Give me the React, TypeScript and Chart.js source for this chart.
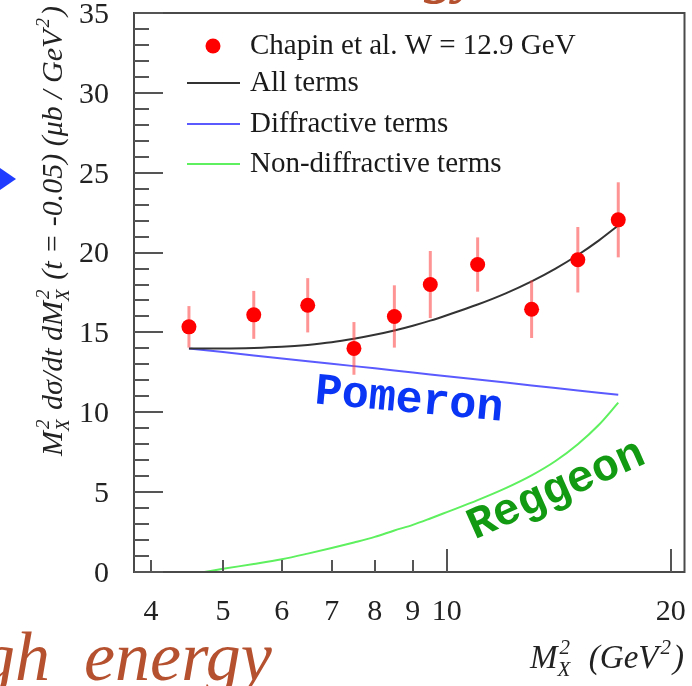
import React, { useEffect, useRef } from "react";
import { Chart, registerables } from "chart.js";
Chart.register(...registerables);

// Measured points (Chapin et al.)
const MX2_DATA = [4.5, 5.5, 6.5, 7.5, 8.5, 9.5, 11, 13, 15, 17];
const XS_DATA = [15.35, 16.1, 16.7, 14.0, 16.0, 18.0, 19.25, 16.45, 19.55, 22.05];
const XS_ERR = [1.3, 1.5, 1.7, 1.65, 1.95, 2.1, 1.7, 1.8, 2.05, 2.35];

// Model curves
const CURVE_X = [4.5, 5, 5.5, 6, 6.5, 7, 7.5, 8, 8.5, 9, 9.5, 10, 11, 12, 13, 14, 15, 16, 17];
const ALL_TERMS = [14.0, 14.0, 14.03, 14.1, 14.22, 14.38, 14.6, 14.85, 15.12, 15.42, 15.74, 16.08, 16.75, 17.45, 18.2, 19.0, 19.85, 20.75, 21.7];
const DIFFRACTIVE = [14.0, 13.77, 13.56, 13.37, 13.2, 13.04, 12.89, 12.75, 12.61, 12.49, 12.37, 12.26, 12.05, 11.86, 11.68, 11.52, 11.37, 11.23, 11.1];
const NONDIFF_X = [4.72, 5, 5.5, 6, 6.5, 7, 7.5, 8, 8.5, 9, 9.5, 10, 11, 12, 13, 14, 15, 16, 17];
const NONDIFF = [0, 0.2, 0.5, 0.8, 1.15, 1.5, 1.85, 2.2, 2.6, 2.95, 3.35, 3.75, 4.5, 5.25, 6.05, 6.95, 8.0, 9.2, 10.6];

// Axes
const X_MIN = 3.796;
const X_MAX = 20.87;
const X_TICKS = [4, 5, 6, 7, 8, 9, 10, 20];
const X_MAJOR = [10, 20];
const Y_MIN = 0;
const Y_MAX = 35;
const Y_STEP = 5;
const Y_MINOR_STEP = 1;

const LABELS = [
  "Chapin et al. W = 12.9 GeV",
  "All terms",
  "Diffractive terms",
  "Non-diffractive terms",
];

const SERIF = '"Liberation Serif", "Times New Roman", serif';

type Part = { t?: string; sup?: string; sub?: string };

function drawRich(ctx: CanvasRenderingContext2D, x: number, y: number, parts: Part[], size: number) {
  let cx = x;
  const small = Math.round(size * 0.64);
  for (const p of parts) {
    if (p.t !== undefined) {
      ctx.font = `italic ${size}px ${SERIF}`;
      ctx.fillText(p.t, cx, y);
      cx += ctx.measureText(p.t).width;
    } else {
      ctx.font = `italic ${small}px ${SERIF}`;
      let w = 0;
      if (p.sup) {
        ctx.fillText(p.sup, cx + 2, y - size * 0.42);
        w = Math.max(w, ctx.measureText(p.sup).width + 2);
      }
      if (p.sub) {
        ctx.fillText(p.sub, cx, y + size * 0.24);
        w = Math.max(w, ctx.measureText(p.sub).width);
      }
      cx += w + 2;
    }
  }
  return cx - x;
}

const errorBarPlugin = {
  id: "errorBars",
  beforeDatasetDraw(chart: any, args: any) {
    if (args.index !== 0) return;
    const { ctx, scales } = chart;
    ctx.save();
    ctx.strokeStyle = "rgba(255,60,60,0.55)";
    ctx.lineWidth = 3;
    MX2_DATA.forEach((xv, i) => {
      const px = scales.x.getPixelForValue(xv);
      const y1 = scales.y.getPixelForValue(XS_DATA[i] - XS_ERR[i]);
      const y2 = scales.y.getPixelForValue(XS_DATA[i] + XS_ERR[i]);
      ctx.beginPath();
      ctx.moveTo(px, y1);
      ctx.lineTo(px, y2);
      ctx.stroke();
    });
    ctx.restore();
  },
};

const framePlugin = {
  id: "frame",
  afterDatasetsDraw(chart: any) {
    const { ctx, chartArea, scales } = chart;
    const { left, right, top, bottom } = chartArea;
    ctx.save();
    ctx.strokeStyle = "#4a4a4a";
    ctx.lineWidth = 2;
    ctx.strokeRect(left, top, right - left, bottom - top);
    ctx.strokeStyle = "#555";
    for (let v = Y_MIN; v <= Y_MAX; v += Y_MINOR_STEP) {
      const py = Math.round(scales.y.getPixelForValue(v));
      const len = v % Y_STEP === 0 ? 29 : 15;
      ctx.beginPath();
      ctx.moveTo(left, py);
      ctx.lineTo(left + len, py);
      ctx.stroke();
    }
    X_TICKS.forEach((v) => {
      const px = Math.round(scales.x.getPixelForValue(v));
      const len = X_MAJOR.includes(v) ? 23 : 12;
      ctx.beginPath();
      ctx.moveTo(px, bottom);
      ctx.lineTo(px, bottom - len);
      ctx.stroke();
    });
    ctx.restore();
  },
};

const decorPlugin = {
  id: "decor",
  afterDraw(chart: any) {
    const { ctx } = chart;
    const ds = chart.data.datasets;
    ctx.save();
    // Legend
    const rows = [46, 83, 124, 164];
    ctx.textBaseline = "middle";
    rows.forEach((ry, i) => {
      if (i === 0) {
        ctx.fillStyle = ds[0].backgroundColor;
        ctx.beginPath();
        ctx.arc(213, ry, 7.5, 0, Math.PI * 2);
        ctx.fill();
      } else {
        ctx.strokeStyle = ds[i].borderColor;
        ctx.lineWidth = 2;
        ctx.beginPath();
        ctx.moveTo(187, ry);
        ctx.lineTo(240, ry);
        ctx.stroke();
      }
      ctx.fillStyle = "#1a1a1a";
      ctx.font = `29px ${SERIF}`;
      ctx.fillText(LABELS[i], 250, ry);
    });

    // Annotations
    ctx.textBaseline = "alphabetic";
    ctx.textAlign = "center";
    ctx.font = `bold 45px "Liberation Mono", monospace`;
    ctx.save();
    ctx.translate(408, 412);
    ctx.rotate((5.3 * Math.PI) / 180);
    ctx.fillStyle = "#0a35f5";
    ctx.fillText("Pomeron", 0, 0);
    ctx.restore();
    ctx.save();
    ctx.translate(561, 501);
    ctx.rotate((-24 * Math.PI) / 180);
    ctx.fillStyle = "#139a13";
    ctx.fillText("Reggeon", 0, 0);
    ctx.restore();
    ctx.textAlign = "left";

    // Y title
    ctx.fillStyle = "#222";
    ctx.save();
    ctx.translate(62, 456);
    ctx.rotate(-Math.PI / 2);
    drawRich(ctx, 0, 0, [
      { t: "M" }, { sup: "2", sub: "X" }, { t: " d\u03c3/dt dM" }, { sup: "2", sub: "X" },
      { t: " (t = -0.05) (\u03bcb / GeV" }, { sup: "2" }, { t: ")" },
    ], 30);
    ctx.restore();

    // X title
    drawRich(ctx, 530, 668, [
      { t: "M" }, { sup: "2", sub: "X" }, { t: "  (GeV" }, { sup: "2" }, { t: ")" },
    ], 33);

    // Slide fragments
    ctx.fillStyle = "#1f3cff";
    ctx.beginPath();
    ctx.moveTo(0, 168);
    ctx.lineTo(16, 179);
    ctx.lineTo(0, 190);
    ctx.closePath();
    ctx.fill();

    ctx.fillStyle = "#b5512f";
    ctx.font = `italic 70px ${SERIF}`;
    const ghW = ctx.measureText("gh").width;
    ctx.fillText("gh", 50 - ghW, 680);
    ctx.fillText("energy", 84, 680);
    ctx.font = `italic bold 60px ${SERIF}`;
    ctx.fillText("gy", 425, -9);
    ctx.restore();
  },
};

export default function App() {
  const ref = useRef<HTMLCanvasElement>(null);
  useEffect(() => {
    document.body.style.margin = "0";
    const tickFont = { family: SERIF, size: 30 };
    const chart = new Chart(ref.current as HTMLCanvasElement, {
      type: "scatter",
      data: {
        datasets: [
          {
            label: LABELS[0],
            data: MX2_DATA.map((x, i) => ({ x, y: XS_DATA[i] })),
            backgroundColor: "#ff0000",
            borderWidth: 0,
            pointRadius: 7.5,
            order: 0,
          },
          {
            label: LABELS[1],
            data: CURVE_X.map((x, i) => ({ x, y: ALL_TERMS[i] })),
            showLine: true,
            borderColor: "#333333",
            borderWidth: 2,
            pointRadius: 0,
            cubicInterpolationMode: "monotone",
            order: 1,
          },
          {
            label: LABELS[2],
            data: CURVE_X.map((x, i) => ({ x, y: DIFFRACTIVE[i] })),
            showLine: true,
            borderColor: "#5a5aff",
            borderWidth: 2,
            pointRadius: 0,
            order: 2,
          },
          {
            label: LABELS[3],
            data: NONDIFF_X.map((x, i) => ({ x, y: NONDIFF[i] })),
            showLine: true,
            borderColor: "#5ef05e",
            borderWidth: 2,
            pointRadius: 0,
            cubicInterpolationMode: "monotone",
            order: 3,
          },
        ],
      } as any,
      options: {
        animation: false,
        responsive: false,
        devicePixelRatio: 1,
        layout: { padding: { top: 13, right: 2, left: 0, bottom: 0 } },
        plugins: { legend: { display: false }, tooltip: { enabled: false } },
        scales: {
          x: {
            type: "logarithmic",
            min: X_MIN,
            max: X_MAX,
            grid: { display: false },
            border: { display: false },
            afterBuildTicks: (s: any) => {
              s.ticks = X_TICKS.map((v) => ({ value: v }));
            },
            afterFit: (s: any) => {
              s.height = 114;
              s.paddingLeft = 0;
              s.paddingRight = 0;
            },
            ticks: {
              callback: (v: any) => String(v),
              font: tickFont,
              color: "#222",
              padding: 14,
              autoSkip: false,
              maxRotation: 0,
            },
          },
          y: {
            min: Y_MIN,
            max: Y_MAX,
            grid: { display: false },
            border: { display: false },
            afterFit: (s: any) => {
              s.width = 134;
              s.paddingTop = 0;
              s.paddingBottom = 0;
            },
            ticks: { stepSize: Y_STEP, font: tickFont, color: "#222", padding: 17, labelOffset: 2 },
          },
        },
      } as any,
      plugins: [errorBarPlugin, framePlugin, decorPlugin],
    });
    return () => chart.destroy();
  }, []);
  return (
    <div style={{ width: 692, height: 686 }}>
      <canvas ref={ref} width={692} height={686} style={{ display: "block" }} />
    </div>
  );
}
